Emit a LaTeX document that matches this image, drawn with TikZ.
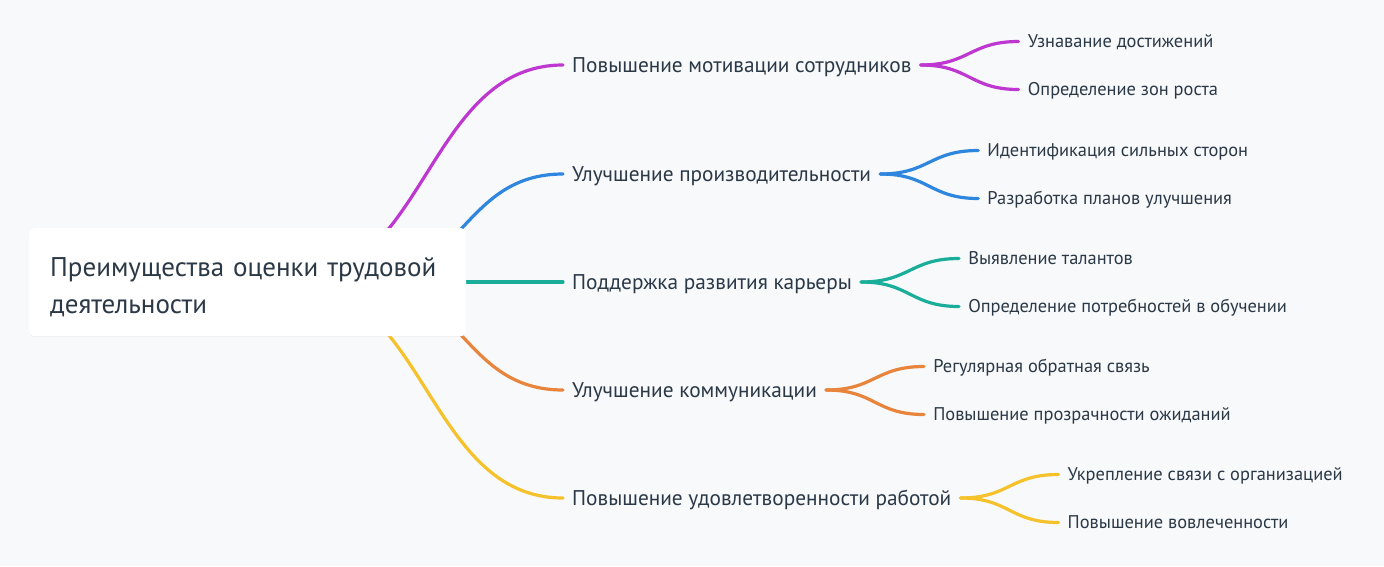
\documentclass[tikz,border=0pt]{standalone}
\usepackage{fontspec}
\setmainfont{PT Sans}
\usetikzlibrary{backgrounds,shadows}
\definecolor{bgc}{HTML}{F7F9FB}
\definecolor{txt}{HTML}{2B3846}
\definecolor{cmag}{HTML}{BE37D1}
\definecolor{cblu}{HTML}{2E86DE}
\definecolor{ctea}{HTML}{1AAE9A}
\definecolor{cora}{HTML}{E8843C}
\definecolor{cyel}{HTML}{F6C22B}
\begin{document}
\begin{tikzpicture}[x=1pt,y=-1pt,
  rootbox/.style={draw=none,fill=white,rounded corners=5pt,anchor=north west,
    minimum width=437pt,minimum height=108pt,inner xsep=21pt,inner ysep=0pt,text width=395pt,
    align=left,font=\fontsize{27}{37}\selectfont,text=txt,text height=26pt,text depth=37pt,
    drop shadow={opacity=0.06,shadow xshift=0pt,shadow yshift=-1pt}},
  branch/.style={anchor=west,inner xsep=9pt,inner ysep=2pt,font=\fontsize{21.3}{24}\selectfont,text=txt,
    text height=14.9pt,text depth=0pt},
  leaf/.style={anchor=west,inner xsep=9pt,inner ysep=2pt,font=\fontsize{18.4}{21}\selectfont,text=txt,
    text height=12.9pt,text depth=0pt},
  link/.style={line width=3.2pt,line cap=round}]
\useasboundingbox (0,0) rectangle (1384,566);

\node[rootbox] (root) at (29,228) {Преимущества оценки трудовой\\деятельности};

\node[branch] (b1) at (563,65) {Повышение мотивации сотрудников};
\node[branch] (b2) at (563,174) {Улучшение производительности};
\node[branch] (b3) at (563,282) {Поддержка развития карьеры};
\node[branch] (b4) at (563,390) {Улучшение коммуникации};
\node[branch] (b5) at (563,498) {Повышение удовлетворенности работой};

\node[leaf] (l11) at ([shift={(98,-23.5)}]b1.east) {Узнавание достижений};
\node[leaf] (l12) at ([shift={(98,24.5)}]b1.east) {Определение зон роста};
\node[leaf] (l21) at ([shift={(98,-23.5)}]b2.east) {Идентификация сильных сторон};
\node[leaf] (l22) at ([shift={(98,24.5)}]b2.east) {Разработка планов улучшения};
\node[leaf] (l31) at ([shift={(98,-23.5)}]b3.east) {Выявление талантов};
\node[leaf] (l32) at ([shift={(98,24.5)}]b3.east) {Определение потребностей в обучении};
\node[leaf] (l41) at ([shift={(98,-23.5)}]b4.east) {Регулярная обратная связь};
\node[leaf] (l42) at ([shift={(98,24.5)}]b4.east) {Повышение прозрачности ожиданий};
\node[leaf] (l51) at ([shift={(98,-23.5)}]b5.east) {Укрепление связи с организацией};
\node[leaf] (l52) at ([shift={(98,24.5)}]b5.east) {Повышение вовлеченности};

\coordinate (s1) at (290,282);
\coordinate (s2) at (361,282);
\coordinate (s3) at (420,282);
\coordinate (s4) at (361,282);
\coordinate (s5) at (290,282);

\begin{scope}[on background layer]
\fill[bgc] (0,0) rectangle (1384,566);
\draw[link,cmag] (s1) .. controls +(136.5,0) and +(-136.5,0) .. (b1.west);
\draw[link,cblu] (s2) .. controls +(101,0) and +(-101,0) .. (b2.west);
\draw[link,ctea] (s3) -- (b3.west);
\draw[link,cora] (s4) .. controls +(101,0) and +(-101,0) .. (b4.west);
\draw[link,cyel] (s5) .. controls +(136.5,0) and +(-136.5,0) .. (b5.west);
\foreach \b/\c in {1/cmag,2/cblu,3/ctea,4/cora,5/cyel}{
  \draw[link,\c] (b\b.east) .. controls +(49,0) and +(-49,0) .. (l\b1.west);
  \draw[link,\c] (b\b.east) .. controls +(49,0) and +(-49,0) .. (l\b2.west);
}
\end{scope}
\end{tikzpicture}
\end{document}
